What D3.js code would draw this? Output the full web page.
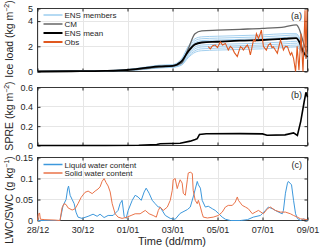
<!DOCTYPE html>
<html>
<head>
<meta charset="utf-8">
<script src="https://cdn.jsdelivr.net/npm/d3@7"></script>
<style>
  body { margin: 0; background: #fff; }
  svg { font-family: "Liberation Sans", Arial, sans-serif; }
  .tick text { fill: #262626; font-size: 9px; }
  .domain { display: none; }
  .tick line { stroke: #262626; }
</style>
</head>
<body>
<div id="chart"></div>
<script>
// time axis in days since 28/12 00:00
var xTicks = [0, 2, 4, 6, 8, 10, 12];
var xTickLabels = ["28/12", "30/12", "01/01", "03/01", "05/01", "07/01", "09/01"];

// panel (a) ice load, common time grid for the model runs
var tModel = [0, 1.5, 3, 4, 4.8, 5.4, 6.0, 6.4, 6.7, 7.0, 7.3, 8, 9, 10, 11, 11.5, 11.65, 11.8, 12];
var ensMean = [0, 0.02, 0.05, 0.12, 0.28, 0.4, 0.45, 0.8, 1.6, 2.15, 2.3, 2.36, 2.45, 2.5, 2.6, 2.65, 2.3, 1.6, 1.15];
var cm = [0, 0.02, 0.05, 0.1, 0.22, 0.35, 0.42, 0.65, 1.8, 3.0, 3.22, 3.28, 3.35, 3.42, 3.55, 3.7, 3.3, 2.4, 1.4];
var ensMembers = [
  [0, 0.03, 0.07, 0.16, 0.35, 0.5, 0.55, 1.0, 2.0, 2.6, 2.75, 2.8, 2.85, 2.9, 3.0, 3.0, 2.65, 1.9, 1.3],
  [0, 0.03, 0.06, 0.14, 0.32, 0.46, 0.5, 0.9, 1.85, 2.45, 2.6, 2.65, 2.7, 2.75, 2.85, 2.9, 2.55, 1.8, 1.25],
  [0, 0.02, 0.06, 0.13, 0.3, 0.43, 0.48, 0.85, 1.7, 2.3, 2.45, 2.5, 2.55, 2.6, 2.7, 2.75, 2.4, 1.7, 1.2],
  [0, 0.02, 0.05, 0.11, 0.26, 0.38, 0.43, 0.75, 1.55, 2.2, 2.35, 2.4, 2.45, 2.5, 2.6, 2.62, 2.3, 1.6, 1.15],
  [0, 0.02, 0.04, 0.1, 0.24, 0.35, 0.4, 0.7, 1.4, 1.95, 2.1, 2.15, 2.2, 2.25, 2.35, 2.4, 2.1, 1.55, 1.1],
  [0, 0.01, 0.04, 0.09, 0.22, 0.32, 0.37, 0.62, 1.3, 1.8, 1.95, 2.0, 2.05, 2.1, 2.2, 2.25, 1.95, 1.45, 1.05],
  [0, 0.01, 0.03, 0.08, 0.2, 0.3, 0.35, 0.55, 1.2, 1.65, 1.8, 1.85, 1.9, 1.95, 2.05, 2.1, 1.85, 1.4, 1.0],
  [0, 0.01, 0.03, 0.07, 0.18, 0.28, 0.33, 0.5, 1.1, 1.52, 1.65, 1.7, 1.75, 1.8, 1.9, 1.95, 1.75, 1.35, 0.95]
];

// observed ice load [day, kg m-2]
var obs = [
  [7.59, 1.97], [7.68, 1.8], [7.78, 2.05], [7.9, 2.1], [8.0, 1.9], [8.13, 2.36], [8.22, 2.1], [8.35, 2.23],
  [8.48, 1.7], [8.57, 2.0], [8.66, 1.84], [8.75, 1.5], [8.88, 1.18], [8.95, 1.6], [9.02, 1.97], [9.1, 1.85],
  [9.15, 1.7], [9.25, 1.95], [9.33, 2.1], [9.4, 1.8], [9.46, 1.31], [9.53, 1.9], [9.6, 2.5], [9.67, 2.4],
  [9.73, 3.0], [9.82, 2.63], [9.88, 2.9], [9.95, 3.28], [10.04, 2.0], [10.1, 1.85], [10.17, 1.7], [10.26, 2.1],
  [10.35, 2.23], [10.42, 1.9], [10.48, 1.97], [10.57, 1.7], [10.66, 1.45], [10.73, 2.0], [10.8, 2.5], [10.87, 2.1],
  [10.93, 1.7], [11.02, 2.0], [11.11, 1.97], [11.18, 1.6], [11.24, 1.31], [11.3, 1.5], [11.38, 1.05], [11.47, 0],
  [11.54, 2.0], [11.62, 0.1], [11.71, 3.0], [11.8, 0], [11.89, 4.86], [11.93, 1.0], [11.98, 4.9]
];

// panel (b) SPRE [day, kg m-2]
var spre = [
  [0, 0], [3, 0], [4.5, 0.003], [5.3, 0.01], [5.45, 0.018], [6.34, 0.024], [6.79, 0.045], [7.01, 0.062],
  [7.1, 0.07], [7.2, 0.115], [7.5, 0.122], [9, 0.123], [10, 0.12], [10.2, 0.106], [11, 0.11], [11.38, 0.13],
  [11.55, 0.104], [11.7, 0.25], [11.85, 0.45], [11.93, 0.55], [12, 0.5]
];

// panel (c) liquid / solid water content [day, g kg-1]
var lwc = [
  [0, 0], [1.0, 0], [1.135, 0.035], [1.27, 0.05], [1.34, 0.075], [1.38, 0.082], [1.45, 0.06], [1.54, 0.05],
  [1.63, 0.04], [1.71, 0.02], [1.8, 0.008], [1.98, 0.005], [2.25, 0.01], [2.47, 0.015], [2.65, 0.01], [2.78, 0.015],
  [2.96, 0.007], [3.14, 0.012], [3.36, 0.012], [3.58, 0.024], [3.67, 0.04], [3.76, 0.048], [3.85, 0.01], [3.94, 0.005],
  [4.03, 0.024], [4.21, 0.048], [4.34, 0.06], [4.47, 0.056], [4.61, 0.048], [4.74, 0.068], [4.83, 0.077], [4.96, 0.065],
  [5.1, 0.048], [5.23, 0.04], [5.37, 0.032], [5.45, 0.032], [5.68, 0.012], [5.9, 0.005], [6.12, 0.003], [6.34, 0.017],
  [6.66, 0.026], [6.79, 0.032], [6.92, 0.056], [7.1, 0.093], [7.15, 0.085], [7.24, 0.077], [7.32, 0.048], [7.46, 0.032],
  [7.59, 0.034], [7.77, 0.028], [7.9, 0.024], [8.04, 0.017], [8.21, 0.008], [8.35, 0.003], [8.57, 0], [9.02, 0],
  [9.33, 0.002], [9.59, 0.008], [9.91, 0.012], [10.13, 0.024], [10.26, 0.032], [10.44, 0.028], [10.57, 0.024], [10.71, 0.02],
  [10.88, 0.016], [10.93, 0.024], [11.02, 0.065], [11.11, 0.089], [11.15, 0.093], [11.29, 0.085], [11.38, 0.048], [11.47, 0.016],
  [11.55, 0.005], [11.69, 0], [11.82, 0.004], [12, 0]
];
var swc = [
  [0, 0], [0.04, 0.015], [0.09, 0.018], [0.13, 0.003], [0.33, 0.002], [0.78, 0.001], [1.0, 0], [1.09, 0.03],
  [1.18, 0.04], [1.27, 0.038], [1.36, 0.03], [1.54, 0.025], [1.67, 0.028], [1.8, 0.04], [1.94, 0.055], [2.11, 0.067],
  [2.25, 0.07], [2.43, 0.064], [2.56, 0.07], [2.69, 0.075], [2.78, 0.08], [2.87, 0.093], [2.96, 0.1], [3.05, 0.09],
  [3.14, 0.082], [3.23, 0.068], [3.32, 0.04], [3.45, 0.016], [3.58, 0.008], [3.76, 0.005], [3.98, 0.008], [4.16, 0.012],
  [4.34, 0.016], [4.56, 0.016], [4.79, 0.024], [4.96, 0.016], [5.14, 0.012], [5.28, 0.008], [5.37, 0.024], [5.45, 0.032],
  [5.59, 0.024], [5.77, 0.032], [5.9, 0.048], [5.99, 0.072], [6.03, 0.097], [6.12, 0.1], [6.21, 0.076], [6.26, 0.085],
  [6.34, 0.097], [6.43, 0.089], [6.48, 0.065], [6.57, 0.06], [6.66, 0.097], [6.7, 0.113], [6.79, 0.115], [6.88, 0.112],
  [6.92, 0.072], [7.01, 0.048], [7.1, 0.04], [7.15, 0.048], [7.24, 0.032], [7.32, 0.016], [7.37, 0.008], [7.55, 0.006],
  [7.81, 0.008], [8.04, 0.012], [8.21, 0.02], [8.35, 0.032], [8.48, 0.036], [8.66, 0.036], [8.79, 0.044], [8.88, 0.056],
  [8.93, 0.048], [9.1, 0.036], [9.24, 0.032], [9.37, 0.028], [9.55, 0.016], [9.68, 0.02], [9.82, 0.024], [10.04, 0.016],
  [10.22, 0.028], [10.35, 0.032], [10.57, 0.024], [10.8, 0.02], [11.02, 0.02], [11.24, 0.016], [11.38, 0.012], [11.55, 0.008],
  [11.69, 0.004], [12, 0.002]
];

var svgWidth = 320;
var svgHeight = 248;

var svg = d3.select("#chart")
  .append("svg")
  .attr("width", svgWidth)
  .attr("height", svgHeight);

// shared x scale
var xScale = d3.scaleLinear().domain([0, 12]).range([37.5, 307.5]);

var yA = d3.scaleLinear().domain([0, 5]).range([71.5, 8.5]);
var yB = d3.scaleLinear().domain([0, 0.6]).range([145.5, 87.5]);
var yC = d3.scaleLinear().domain([0, 0.15]).range([220.5, 157.5]);

var axisColor = "#262626";

// draws grid, ticks and box for one panel
function drawFrame(y, yTicks, showXLabels) {
  var g = svg.append("g");
  var top = y.range()[1], bottom = y.range()[0];
  var left = xScale.range()[0], right = xScale.range()[1];

  // grid
  g.selectAll("line.vgrid")
    .data(xTicks)
    .enter()
    .append("line")
    .attr("x1", d => Math.round(xScale(d)) + 0.5)
    .attr("x2", d => Math.round(xScale(d)) + 0.5)
    .attr("y1", top)
    .attr("y2", bottom)
    .attr("stroke", "#e6e6e6");
  g.selectAll("line.hgrid")
    .data(yTicks)
    .enter()
    .append("line")
    .attr("x1", left)
    .attr("x2", right)
    .attr("y1", d => Math.round(y(d) - 0.5) + 0.5)
    .attr("y2", d => Math.round(y(d) - 0.5) + 0.5)
    .attr("stroke", "#e6e6e6");

  // left axis with inward ticks
  g.append("g")
    .attr("transform", `translate(${left}, 0)`)
    .call(d3.axisLeft(y).tickValues(yTicks).tickSize(-3).tickPadding(4.5).tickFormat(d3.format("~g")));
  g.append("g")
    .attr("transform", `translate(${right}, 0)`)
    .call(d3.axisRight(y).tickValues(yTicks).tickSize(-3).tickFormat(""));

  // bottom axis
  var bottomAxis = d3.axisBottom(xScale).tickValues(xTicks).tickSize(-3).tickPadding(6);
  if (showXLabels) {
    bottomAxis.tickFormat((d, i) => xTickLabels[i]);
  } else {
    bottomAxis.tickFormat("");
  }
  g.append("g")
    .attr("transform", `translate(0, ${bottom})`)
    .call(bottomAxis);
  g.append("g")
    .attr("transform", `translate(0, ${top})`)
    .call(d3.axisTop(xScale).tickValues(xTicks).tickSize(-3).tickFormat(""));

  // box
  g.append("rect")
    .attr("x", left)
    .attr("y", top)
    .attr("width", right - left)
    .attr("height", bottom - top)
    .attr("fill", "none")
    .attr("stroke", axisColor)
    .attr("stroke-width", 0.9);

  return g;
}

drawFrame(yA, [0, 2, 4, 5], false);
drawFrame(yB, [0, 0.2, 0.4, 0.6], false);
drawFrame(yC, [0, 0.05, 0.1, 0.15], true);

// panel (a) lines
var lineA = d3.line()
  .x((d, i) => xScale(tModel[i]))
  .y(d => yA(d))
  .curve(d3.curveMonotoneX);

svg.selectAll("path.member")
  .data(ensMembers)
  .enter()
  .append("path")
  .attr("class", "member")
  .attr("d", lineA)
  .attr("fill", "none")
  .attr("stroke", "#98c9ec")
  .attr("stroke-width", 0.9);

svg.append("path")
  .attr("d", lineA(cm))
  .attr("fill", "none")
  .attr("stroke", "#666")
  .attr("stroke-width", 1.3);

svg.append("path")
  .attr("d", lineA(ensMean))
  .attr("fill", "none")
  .attr("stroke", "#000")
  .attr("stroke-width", 1.8);

var lineObs = d3.line()
  .x(d => xScale(d[0]))
  .y(d => yA(d[1]));

svg.append("path")
  .attr("d", lineObs(obs))
  .attr("fill", "none")
  .attr("stroke", "#e0581f")
  .attr("stroke-width", 1.1);

// panel (b)
svg.append("path")
  .attr("d", d3.line().x(d => xScale(d[0])).y(d => yB(d[1]))(spre))
  .attr("fill", "none")
  .attr("stroke", "#000")
  .attr("stroke-width", 1.6);

// panel (c)
var lineC = d3.line()
  .x(d => xScale(d[0]))
  .y(d => yC(d[1]));

svg.append("path")
  .attr("d", lineC(lwc))
  .attr("fill", "none")
  .attr("stroke", "#3d98dc")
  .attr("stroke-width", 1);

svg.append("path")
  .attr("d", lineC(swc))
  .attr("fill", "none")
  .attr("stroke", "#ea7349")
  .attr("stroke-width", 1);

// legends
var legendA = [
  { name: "ENS members", color: "#b5daf3", width: 2 },
  { name: "CM", color: "#666", width: 1.5 },
  { name: "ENS mean", color: "#000", width: 2 },
  { name: "Obs", color: "#e0581f", width: 2 }
];
var legendC = [
  { name: "Liquid water content", color: "#3d98dc", width: 1.5 },
  { name: "Solid water content", color: "#ea7349", width: 1.5 }
];

function drawLegend(items, x0, y0, step) {
  var g = svg.append("g");
  items.forEach(function(d, i) {
    g.append("line")
      .attr("x1", x0)
      .attr("x2", x0 + 19)
      .attr("y1", y0 + i * step)
      .attr("y2", y0 + i * step)
      .attr("stroke", d.color)
      .attr("stroke-width", d.width);
    g.append("text")
      .attr("x", x0 + 21)
      .attr("y", y0 + i * step + 3)
      .attr("font-size", "8px")
      .attr("fill", axisColor)
      .text(d.name);
  });
}
drawLegend(legendA, 43.5, 15, 9);
drawLegend(legendC, 43.5, 164.5, 8.5);

// panel tags
[["(a)", yA], ["(b)", yB], ["(c)", yC]].forEach(function(p) {
  svg.append("text")
    .attr("x", 302)
    .attr("y", p[1].range()[1] + 10)
    .attr("text-anchor", "end")
    .attr("font-size", "9px")
    .attr("fill", axisColor)
    .text(p[0]);
});

// y labels with superscripts
function yLabel(cy, main, unit, sup) {
  var t = svg.append("text")
    .attr("transform", `translate(13, ${cy}) rotate(-90)`)
    .attr("text-anchor", "middle")
    .attr("font-size", "10.5px")
    .attr("fill", axisColor);
  t.append("tspan").text(main + " (" + unit);
  t.append("tspan").attr("font-size", "7px").attr("dy", "-4").text(sup);
  t.append("tspan").attr("dy", "4").text(")");
}
yLabel(39, "Ice load", "kg m", "−2");
yLabel(116, "SPRE", "kg m", "−2");
yLabel(200, "LWC/SWC", "g kg", "−1");

// x label
svg.append("text")
  .attr("x", 172)
  .attr("y", 245)
  .attr("text-anchor", "middle")
  .attr("font-size", "11px")
  .attr("fill", axisColor)
  .text("Time (dd/mm)");
</script>
</body>
</html>
